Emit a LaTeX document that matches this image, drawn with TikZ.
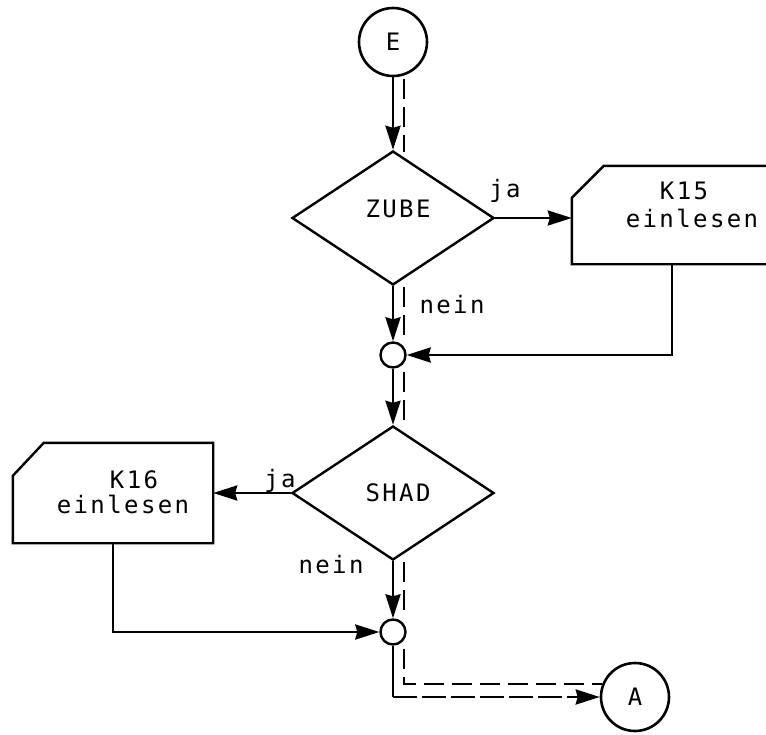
\documentclass[tikz,border=0pt]{standalone}
\usepackage{fontspec}
\newfontfamily\flowfont[LetterSpace=10]{DejaVu Sans Mono}
\usetikzlibrary{arrows.meta,shapes.geometric,calc}
\begin{document}
\begin{tikzpicture}[x=1pt,y=-1pt,
  line/.style={line width=2.4pt},
  flow/.style={line width=2.6pt,-{Stealth[length=24pt,width=15pt,inset=2pt]}},
  hl/.style={line width=2.2pt,dash pattern=on 20pt off 8pt},
  txt/.style={font=\flowfont\fontsize{24}{28}\selectfont, inner sep=0pt},
  dec/.style={diamond, draw, line width=2.4pt, minimum width=202pt, minimum height=134pt, inner sep=0pt},
  conn/.style={circle, draw, line width=2.6pt, minimum size=68pt, inner sep=0pt, font=\flowfont\fontsize{24}{28}\selectfont},
  junc/.style={circle, draw, line width=2.4pt, minimum size=25pt, inner sep=0pt},
  boxarea/.style={minimum width=200pt, inner sep=0pt}
]
\useasboundingbox (0,0) rectangle (766,734);
\clip (0,0) rectangle (766,734);

% nodes
\node[conn] (E) at (393,42) {E};
\node[dec] (zube) at (393,218) {};
\node[txt] (zubet) at (398,209) {ZUBE};
\node[junc] (j1) at (393,355) {};
\node[dec] (shad) at (393,493) {};
\node[txt] (shadt) at (398,493) {SHAD};
\node[junc] (j2) at (393,632) {};
\node[conn] (A) at (635,697) {A};

% input boxes
\node[boxarea, minimum height=98pt] (k15) at (672,215) {};
\draw[line] ($(k15.north west)+(0,32)$) -- ($(k15.north west)+(32,0)$) -- (k15.north east) -- (k15.south east) -- (k15.south west) -- cycle;
\node[txt, anchor=base] (k15a) at (684,199) {K15};
\node[txt, anchor=base] (k15b) at (692,227) {einlesen};

\node[boxarea, minimum height=100pt] (k16) at (113,493) {};
\draw[line] ($(k16.north west)+(0,33)$) -- ($(k16.north west)+(31,0)$) -- (k16.north east) -- (k16.south east) -- (k16.south west) -- cycle;
\node[txt, anchor=base] (k16a) at (134,488) {K16};
\node[txt, anchor=base] (k16b) at (123,513) {einlesen};

% labels
\node[txt, anchor=base] (ja1) at (505,197) {ja};
\node[txt, anchor=base] (nein1) at (452,313) {nein};
\node[txt, anchor=base] (ja2) at (280,487) {ja};
\node[txt, anchor=base] (nein2) at (331,573) {nein};

% connectors
\draw[flow] (E) -- (zube);
\draw[flow] (zube.east) -- (zube.east -| k15.west);
\draw[flow] (zube) -- (j1);
\draw[flow] (k15.south) |- (j1.east);
\draw[flow] (j1) -- (shad);
\draw[flow] (shad.west) -- (shad.west -| k16.east);
\draw[flow] (shad) -- (j2);
\draw[flow] (k16.south) |- (j2.west);
\coordinate (c1) at (j2.south |- A.west);
\draw[line] (j2.south) -- (c1);
\draw[flow, dash pattern=on 24pt off 5pt] (c1) -- (A.west);

% highlighted path (dashed)
\draw[hl] ($(E.south)+(11,2)$) -- ($(zube.north)+(11,2)$);
\draw[hl] ($(zube.south)+(11,1)$) -- ($(j1.north)+(11,-3)$);
\draw[hl] ($(j1.south)+(11,3)$) -- ($(shad.north)+(11,0)$);
\draw[hl] ($(shad.south)+(11,1)$) -- ($(j2.north)+(11,-3)$);
\draw[hl] ($(j2.south)+(11,3)$) |- (A.159);
\end{tikzpicture}
\end{document}
